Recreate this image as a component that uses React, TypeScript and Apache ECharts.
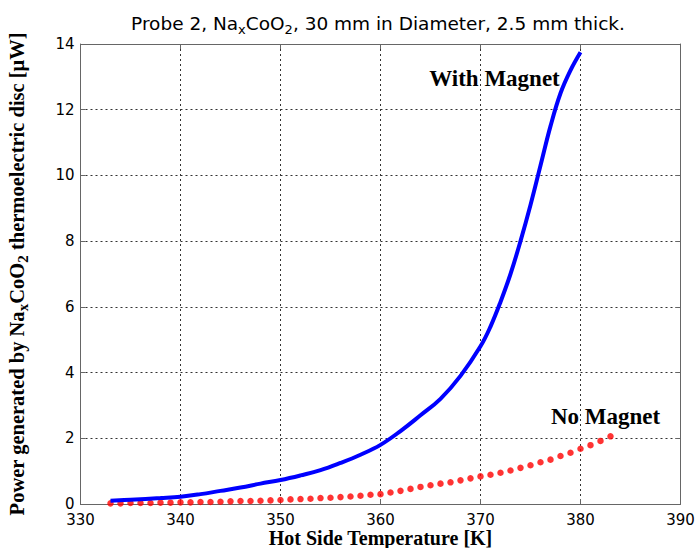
import React, { useEffect, useRef } from "react";
import * as echarts from "echarts";

const withMagnetT = [333, 335, 338, 340, 342, 344, 346, 348, 350, 352, 354, 356, 358, 360, 362, 364, 366, 368, 370, 371, 372, 373, 374, 375, 376, 377, 378, 379, 380];
const withMagnetP = [0.1, 0.13, 0.18, 0.22, 0.3, 0.4, 0.5, 0.62, 0.73, 0.87, 1.03, 1.25, 1.5, 1.8, 2.22, 2.7, 3.2, 3.9, 4.8, 5.4, 6.15, 7.0, 8.0, 9.1, 10.3, 11.5, 12.5, 13.2, 13.75];

const noMagnetT = [333, 334, 335, 336, 337, 338, 339, 340, 341, 342, 343, 344, 345, 346, 347, 348, 349, 350, 351, 352, 353, 354, 355, 356, 357, 358, 359, 360, 361, 362, 363, 364, 365, 366, 367, 368, 369, 370, 371, 372, 373, 374, 375, 376, 377, 378, 379, 380, 381, 382, 383];
const noMagnetP = [0.02, 0.02, 0.03, 0.03, 0.03, 0.04, 0.04, 0.05, 0.05, 0.06, 0.06, 0.07, 0.08, 0.09, 0.09, 0.1, 0.11, 0.12, 0.14, 0.15, 0.16, 0.18, 0.19, 0.21, 0.23, 0.25, 0.28, 0.3, 0.35, 0.4, 0.46, 0.52, 0.57, 0.62, 0.66, 0.72, 0.78, 0.84, 0.89, 0.95, 1.02, 1.1, 1.18, 1.27, 1.35, 1.46, 1.56, 1.68, 1.79, 1.92, 2.06];

const xTicks = { min: 330, max: 390, interval: 10 };
const yTicks = { min: 0, max: 14, interval: 2 };

const labelWith = { text: "With Magnet", x: 371.4, y: 12.95 };
const labelNo = { text: "No Magnet", x: 382.5, y: 2.65 };

export default function App() {
  const ref = useRef<HTMLDivElement>(null);
  useEffect(() => {
    if (!ref.current) return;
    const chart = echarts.init(ref.current, null, { renderer: "svg" });
    const gridColor = "#333";
    const frameColor = "#666";
    const tickFont = { fontFamily: "DejaVu Sans", fontSize: 15, color: "#000" };
    const annLabel = (t: string) => ({
      show: true,
      formatter: t,
      position: "inside",
      fontFamily: "Liberation Serif",
      fontWeight: "bold",
      fontSize: 23,
      color: "#000",
    });
    chart.setOption({
      animation: false,
      title: {
        text: "Probe 2, Na{sub|x}CoO{sub|2}, 30 mm in Diameter, 2.5 mm thick.",
        left: 373,
        textAlign: "center",
        top: 5,
        textStyle: {
          fontFamily: "DejaVu Sans",
          fontSize: 18.5,
          fontWeight: "normal",
          color: "#000",
          rich: {
            sub: { fontFamily: "DejaVu Sans", fontSize: 13, color: "#000", padding: [13, 0, 0, 0] },
          },
        },
      },
      grid: { left: 80.5, right: 16.5, top: 44, bottom: 44, show: false, outerBoundsMode: "none", containLabel: false },
      xAxis: [
        {
          type: "value",
          ...xTicks,
          name: "Hot Side Temperature [K]",
          nameLocation: "middle",
          nameGap: 24,
          nameMoveOverlap: false,
          nameTextStyle: { fontFamily: "Liberation Serif", fontWeight: "bold", fontSize: 20, lineHeight: 20, color: "#000", verticalAlign: "top" },
          axisLine: { show: true, lineStyle: { color: frameColor, width: 1 } },
          axisTick: { show: true, inside: true, length: 5, lineStyle: { color: frameColor } },
          axisLabel: { ...tickFont, lineHeight: 15, margin: 8 },
          splitLine: { show: true, lineStyle: { color: gridColor, type: [2, 3], width: 1 } },
        },
        {
          type: "value",
          ...xTicks,
          position: "top",
          axisLine: { show: true, onZero: false, lineStyle: { color: frameColor, width: 1 } },
          axisTick: { show: true, inside: true, length: 5, lineStyle: { color: frameColor } },
          axisLabel: { show: false },
          splitLine: { show: false },
        },
      ],
      yAxis: [
        {
          type: "value",
          ...yTicks,
          name: "Power generated by Na{sub|x}CoO{sub|2} thermoelectric disc [μW]",
          nameLocation: "middle",
          nameRotate: 90,
          nameGap: 50,
          nameMoveOverlap: false,
          nameTextStyle: {
            fontFamily: "Liberation Serif",
            fontWeight: "bold",
            fontSize: 20.5,
            color: "#000",
            rich: {
              sub: { fontFamily: "Liberation Serif", fontWeight: "bold", fontSize: 15, color: "#000", padding: [13, 0, 0, 0] },
            },
          },
          axisLine: { show: true, lineStyle: { color: frameColor, width: 1 } },
          axisTick: { show: true, inside: true, length: 5, lineStyle: { color: frameColor } },
          axisLabel: { ...tickFont, lineHeight: 13, margin: 6 },
          splitLine: { show: true, lineStyle: { color: gridColor, type: [2, 3], width: 1 } },
        },
        {
          type: "value",
          ...yTicks,
          position: "right",
          axisLine: { show: true, onZero: false, lineStyle: { color: frameColor, width: 1 } },
          axisTick: { show: true, inside: true, length: 5, lineStyle: { color: frameColor } },
          axisLabel: { show: false },
          splitLine: { show: false },
        },
      ],
      series: [
        {
          type: "line",
          name: "With Magnet",
          data: withMagnetT.map((t, i) => [t, withMagnetP[i]]),
          showSymbol: false,
          smooth: 0.4,
          lineStyle: { color: "#0000ff", width: 4 },
          z: 3,
          markPoint: {
            symbol: "circle",
            symbolSize: 0,
            data: [{ coord: [labelWith.x, labelWith.y], label: annLabel(labelWith.text) }],
          },
        },
        {
          type: "scatter",
          name: "No Magnet",
          data: noMagnetT.map((t, i) => [t, noMagnetP[i]]),
          symbol: "circle",
          symbolSize: 6.5,
          itemStyle: { color: "#ff0000" },
          z: 2,
          markPoint: {
            symbol: "circle",
            symbolSize: 0,
            data: [{ coord: [labelNo.x, labelNo.y], label: annLabel(labelNo.text) }],
          },
        },
      ],
    });
    return () => chart.dispose();
  }, []);
  return <div ref={ref} style={{ width: 697, height: 548, position: "absolute", left: 0, top: 0 }} />;
}
